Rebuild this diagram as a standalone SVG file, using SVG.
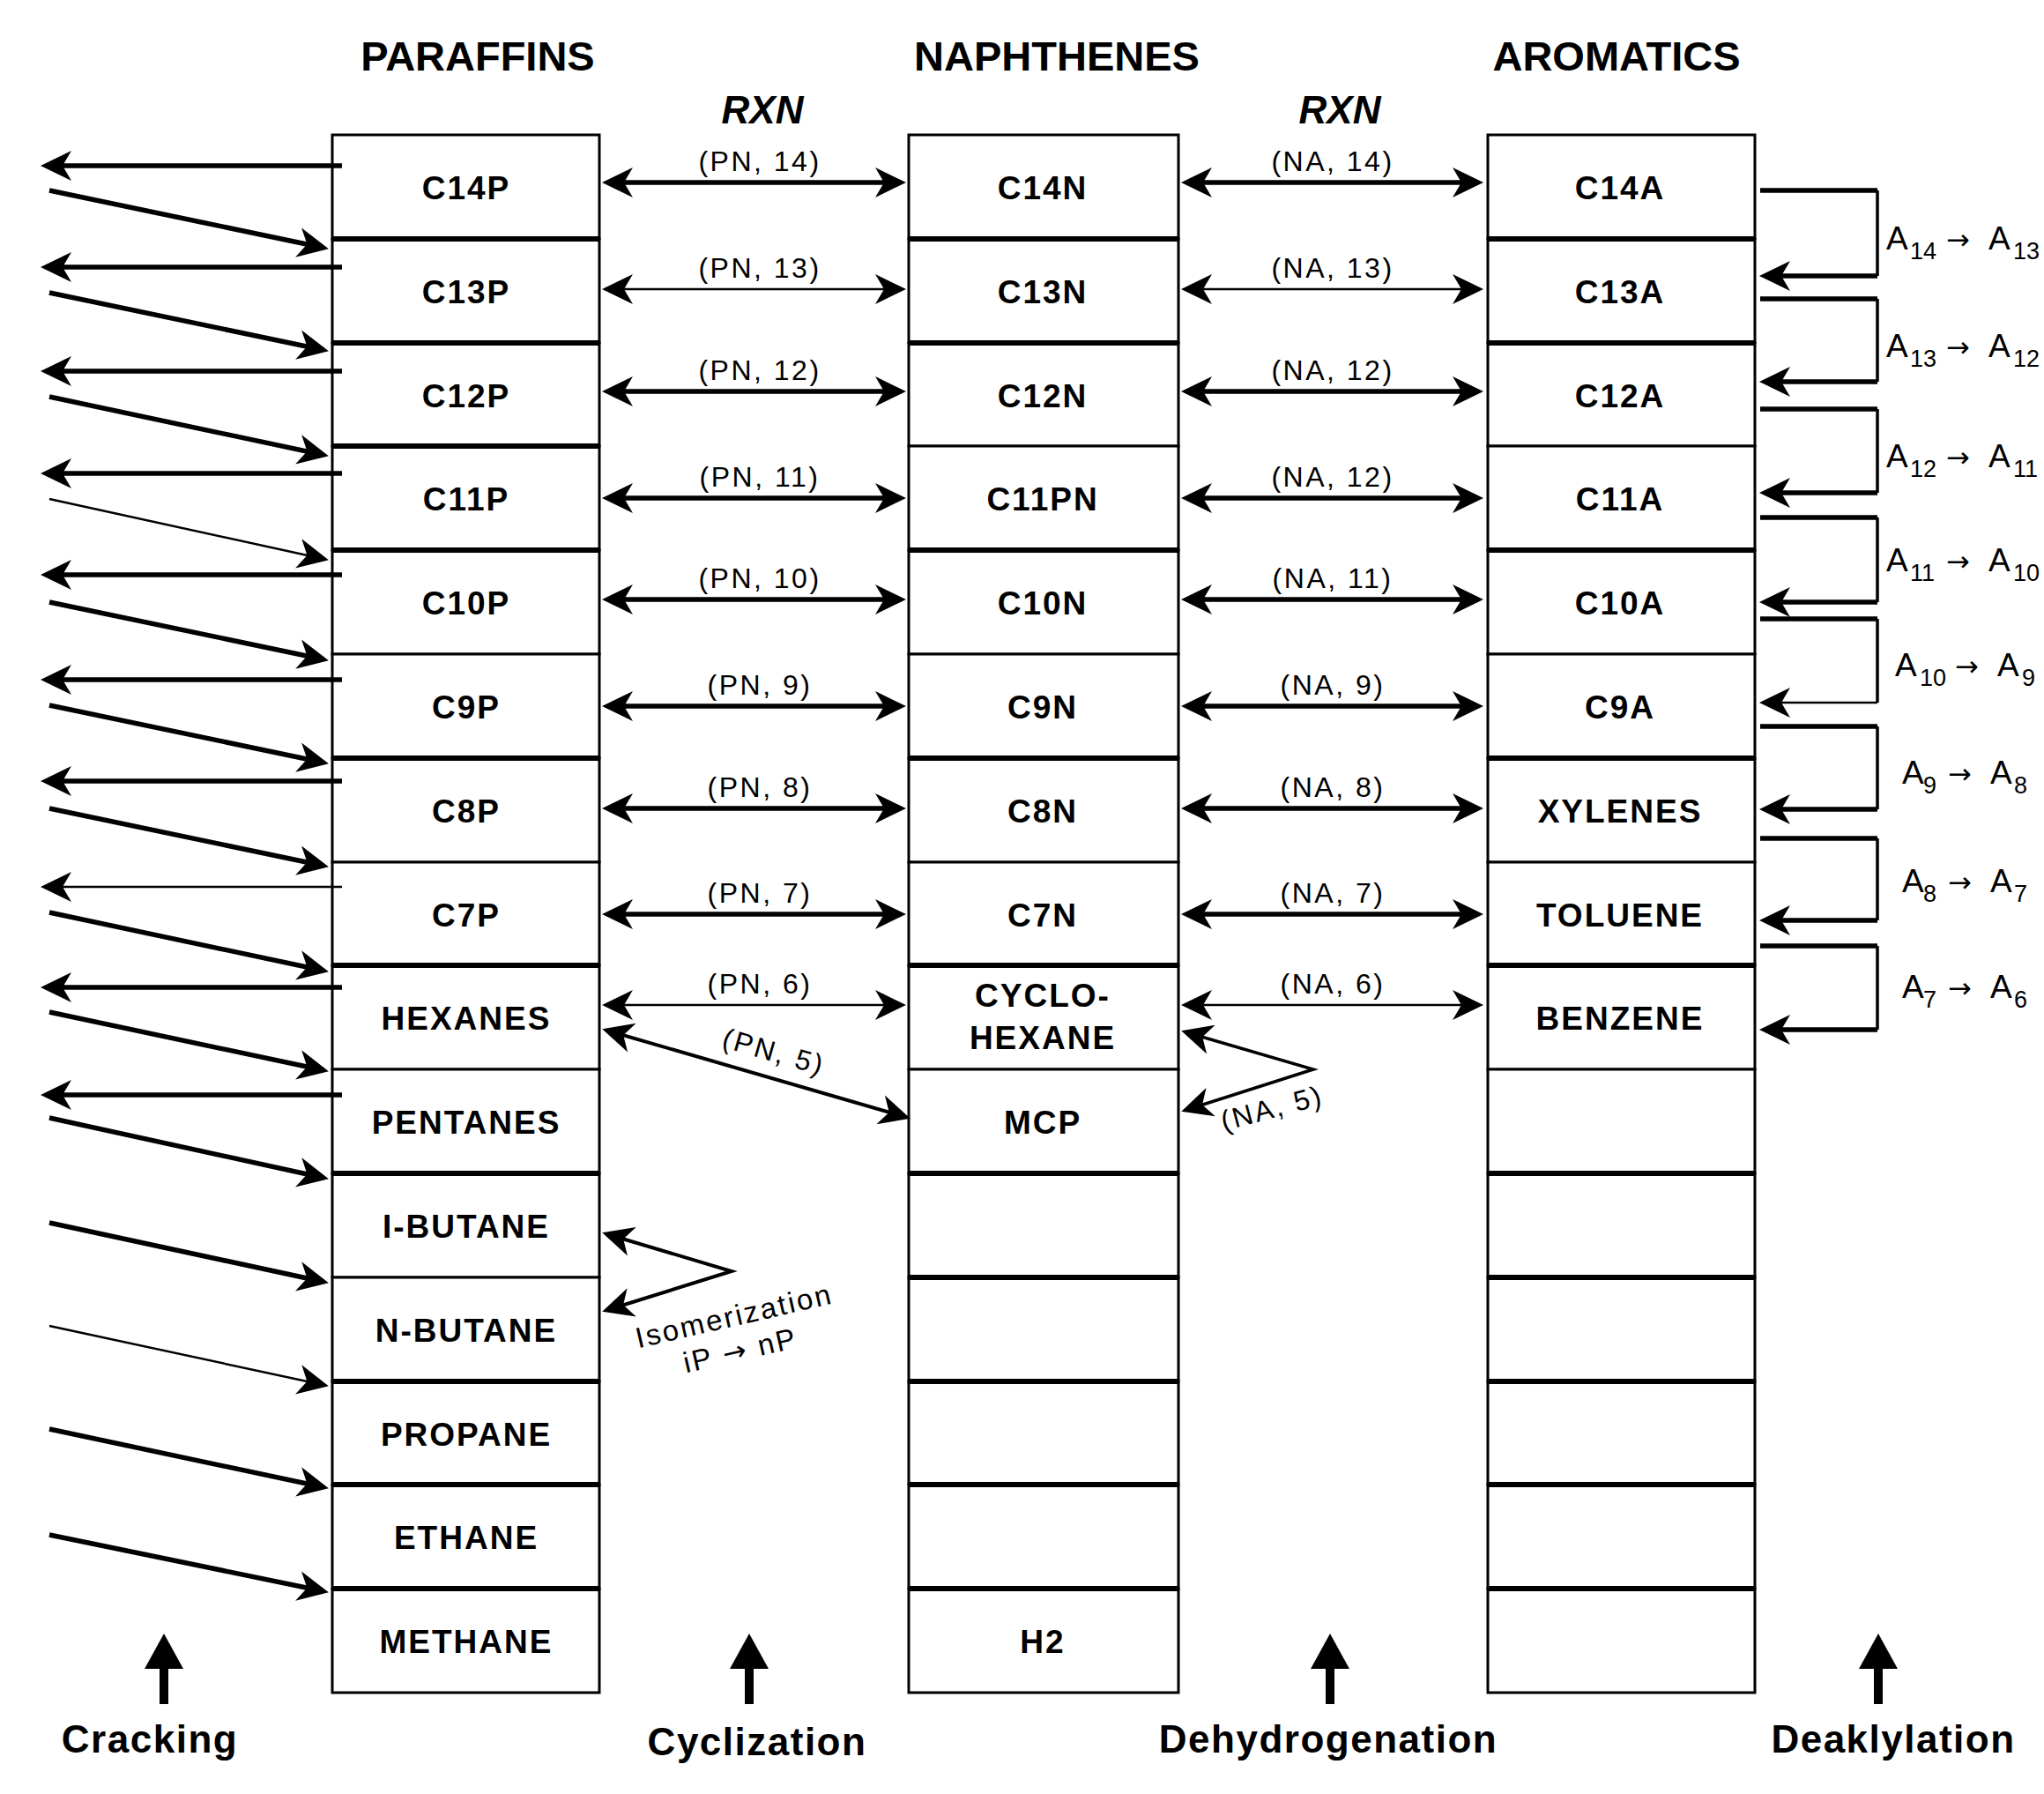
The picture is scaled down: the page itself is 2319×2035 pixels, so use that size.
<svg xmlns="http://www.w3.org/2000/svg" width="2319" height="2035" viewBox="0 0 2319 2035">
<style>
.cell{fill:#fff;stroke:#000;stroke-width:3}
.dv{stroke:#000;stroke-width:6}
.nt{font-family:"Liberation Sans",Arial,sans-serif;font-weight:bold;font-size:37px;letter-spacing:2px;text-anchor:middle;fill:#000}
.hd{font-family:"Liberation Sans",Arial,sans-serif;font-weight:bold;font-size:47px;text-anchor:middle}
.rxn{font-family:"Liberation Sans",Arial,sans-serif;font-weight:bold;font-style:italic;font-size:44px;text-anchor:middle}
.lb{font-family:"Liberation Sans",Arial,sans-serif;font-size:32px;letter-spacing:2.5px;text-anchor:middle}
.iso{font-family:"Liberation Sans",Arial,sans-serif;font-size:33px;letter-spacing:2.5px;text-anchor:middle}
.al{font-family:"Liberation Sans",Arial,sans-serif;font-size:37px}
.sb{font-size:27px}
.aw{font-family:"DejaVu Sans",sans-serif;font-size:32px}
.bt{font-family:"Liberation Sans",Arial,sans-serif;font-weight:bold;font-size:44px;letter-spacing:1.5px;text-anchor:middle}
.k{stroke:#000;stroke-width:5.5;fill:none}
.t{stroke:#000;stroke-width:2.5;fill:none}
.m{stroke:#000;stroke-width:4;fill:none}
.v{stroke:#000;stroke-width:3.5;fill:none}
.e{marker-end:url(#ah)}
.b{marker-start:url(#ah);marker-end:url(#ah)}
</style>
<defs>
<marker id="ah" markerUnits="userSpaceOnUse" markerWidth="50" markerHeight="50" viewBox="-30 -25 50 50" refX="0" refY="0" orient="auto-start-reverse" overflow="visible">
<path d="M6,0 L-29,-17 L-19,0 L-29,17 Z" fill="#000"/>
</marker>
<path id="up" d="M0,0 L-22,40 L-5,40 L-5,80 L5,80 L5,40 L22,40 Z" fill="#000"/>
</defs>
<rect width="2319" height="2035" fill="#fff"/>

<g id="headers">
<text class="hd" x="542" y="80">PARAFFINS</text>
<text class="hd" x="1199" y="80">NAPHTHENES</text>
<text class="hd" x="1834" y="80">AROMATICS</text>
<text class="rxn" x="865" y="140">RXN</text>
<text class="rxn" x="1520" y="140">RXN</text>
</g>

<g id="paraffins">
<g id="p-c14p"><rect class="cell" x="377" y="153" width="303" height="118"/><text class="nt" x="529" y="226">C14P</text></g>
<g id="p-c13p"><rect class="cell" x="377" y="271" width="303" height="118"/><text class="nt" x="529" y="344">C13P</text></g>
<g id="p-c12p"><rect class="cell" x="377" y="389" width="303" height="117"/><text class="nt" x="529" y="462">C12P</text></g>
<g id="p-c11p"><rect class="cell" x="377" y="506" width="303" height="118"/><text class="nt" x="529" y="579">C11P</text></g>
<g id="p-c10p"><rect class="cell" x="377" y="624" width="303" height="118"/><text class="nt" x="529" y="697">C10P</text></g>
<g id="p-c9p"><rect class="cell" x="377" y="742" width="303" height="118"/><text class="nt" x="529" y="815">C9P</text></g>
<g id="p-c8p"><rect class="cell" x="377" y="860" width="303" height="118"/><text class="nt" x="529" y="933">C8P</text></g>
<g id="p-c7p"><rect class="cell" x="377" y="978" width="303" height="117"/><text class="nt" x="529" y="1051">C7P</text></g>
<g id="p-hexanes"><rect class="cell" x="377" y="1095" width="303" height="118"/><text class="nt" x="529" y="1168">HEXANES</text></g>
<g id="p-pentanes"><rect class="cell" x="377" y="1213" width="303" height="118"/><text class="nt" x="529" y="1286">PENTANES</text></g>
<g id="p-ibutane"><rect class="cell" x="377" y="1331" width="303" height="118"/><text class="nt" x="529" y="1404">I-BUTANE</text></g>
<g id="p-nbutane"><rect class="cell" x="377" y="1449" width="303" height="118"/><text class="nt" x="529" y="1522">N-BUTANE</text></g>
<g id="p-propane"><rect class="cell" x="377" y="1567" width="303" height="117"/><text class="nt" x="529" y="1640">PROPANE</text></g>
<g id="p-ethane"><rect class="cell" x="377" y="1684" width="303" height="118"/><text class="nt" x="529" y="1757">ETHANE</text></g>
<g id="p-methane"><rect class="cell" x="377" y="1802" width="303" height="118"/><text class="nt" x="529" y="1875">METHANE</text></g>
</g>

<g id="naphthenes">
<g id="n-c14n"><rect class="cell" x="1031" y="153" width="306" height="118"/><text class="nt" x="1183" y="226">C14N</text></g>
<g id="n-c13n"><rect class="cell" x="1031" y="271" width="306" height="118"/><text class="nt" x="1183" y="344">C13N</text></g>
<g id="n-c12n"><rect class="cell" x="1031" y="389" width="306" height="117"/><text class="nt" x="1183" y="462">C12N</text></g>
<g id="n-c11pn"><rect class="cell" x="1031" y="506" width="306" height="118"/><text class="nt" x="1183" y="579">C11PN</text></g>
<g id="n-c10n"><rect class="cell" x="1031" y="624" width="306" height="118"/><text class="nt" x="1183" y="697">C10N</text></g>
<g id="n-c9n"><rect class="cell" x="1031" y="742" width="306" height="118"/><text class="nt" x="1183" y="815">C9N</text></g>
<g id="n-c8n"><rect class="cell" x="1031" y="860" width="306" height="118"/><text class="nt" x="1183" y="933">C8N</text></g>
<g id="n-c7n"><rect class="cell" x="1031" y="978" width="306" height="117"/><text class="nt" x="1183" y="1051">C7N</text></g>
<g id="n-cyclohexane"><rect class="cell" x="1031" y="1095" width="306" height="118"/><text class="nt" x="1183" y="1142">CYCLO-</text><text class="nt" x="1183" y="1190">HEXANE</text></g>
<g id="n-mcp"><rect class="cell" x="1031" y="1213" width="306" height="118"/><text class="nt" x="1183" y="1286">MCP</text></g>
<g id="n-e1"><rect class="cell" x="1031" y="1331" width="306" height="118"/></g>
<g id="n-e2"><rect class="cell" x="1031" y="1449" width="306" height="118"/></g>
<g id="n-e3"><rect class="cell" x="1031" y="1567" width="306" height="117"/></g>
<g id="n-e4"><rect class="cell" x="1031" y="1684" width="306" height="118"/></g>
<g id="n-h2"><rect class="cell" x="1031" y="1802" width="306" height="118"/><text class="nt" x="1183" y="1875">H2</text></g>
</g>

<g id="aromatics">
<g id="a-c14a"><rect class="cell" x="1688" y="153" width="303" height="118"/><text class="nt" x="1838" y="226">C14A</text></g>
<g id="a-c13a"><rect class="cell" x="1688" y="271" width="303" height="118"/><text class="nt" x="1838" y="344">C13A</text></g>
<g id="a-c12a"><rect class="cell" x="1688" y="389" width="303" height="117"/><text class="nt" x="1838" y="462">C12A</text></g>
<g id="a-c11a"><rect class="cell" x="1688" y="506" width="303" height="118"/><text class="nt" x="1838" y="579">C11A</text></g>
<g id="a-c10a"><rect class="cell" x="1688" y="624" width="303" height="118"/><text class="nt" x="1838" y="697">C10A</text></g>
<g id="a-c9a"><rect class="cell" x="1688" y="742" width="303" height="118"/><text class="nt" x="1838" y="815">C9A</text></g>
<g id="a-xylenes"><rect class="cell" x="1688" y="860" width="303" height="118"/><text class="nt" x="1838" y="933">XYLENES</text></g>
<g id="a-toluene"><rect class="cell" x="1688" y="978" width="303" height="117"/><text class="nt" x="1838" y="1051">TOLUENE</text></g>
<g id="a-benzene"><rect class="cell" x="1688" y="1095" width="303" height="118"/><text class="nt" x="1838" y="1168">BENZENE</text></g>
<g id="a-e1"><rect class="cell" x="1688" y="1213" width="303" height="118"/></g>
<g id="a-e2"><rect class="cell" x="1688" y="1331" width="303" height="118"/></g>
<g id="a-e3"><rect class="cell" x="1688" y="1449" width="303" height="118"/></g>
<g id="a-e4"><rect class="cell" x="1688" y="1567" width="303" height="117"/></g>
<g id="a-e5"><rect class="cell" x="1688" y="1684" width="303" height="118"/></g>
<g id="a-e6"><rect class="cell" x="1688" y="1802" width="303" height="118"/></g>
</g>

<g id="dividers">
<path class="dv" d="M377,271H680M377,389H680M377,506H680M377,624H680M377,860H680M377,1095H680M377,1331H680M377,1567H680M377,1684H680M377,1802H680"/>
<path class="dv" d="M1031,271H1337M1031,389H1337M1031,624H1337M1031,860H1337M1031,1095H1337M1031,1331H1337M1031,1449H1337M1031,1567H1337M1031,1684H1337M1031,1802H1337"/>
<path class="dv" d="M1688,271H1991M1688,389H1991M1688,624H1991M1688,860H1991M1688,1095H1991M1688,1331H1991M1688,1449H1991M1688,1567H1991M1688,1684H1991M1688,1802H1991"/>
</g>

<g id="connectors">
<g id="cracking">
<line class="k e" x1="388" y1="188" x2="52" y2="188"/>
<line class="k e" x1="388" y1="303" x2="52" y2="303"/>
<line class="k e" x1="388" y1="421" x2="52" y2="421"/>
<line class="k e" x1="388" y1="537" x2="52" y2="537"/>
<line class="k e" x1="388" y1="652" x2="52" y2="652"/>
<line class="k e" x1="388" y1="771" x2="52" y2="771"/>
<line class="k e" x1="388" y1="886" x2="52" y2="886"/>
<line class="t e" x1="388" y1="1006" x2="52" y2="1006"/>
<line class="k e" x1="388" y1="1120" x2="52" y2="1120"/>
<line class="k e" x1="388" y1="1242" x2="52" y2="1242"/>
<line class="k e" x1="56" y1="216" x2="367" y2="281"/>
<line class="k e" x1="56" y1="332" x2="367" y2="397"/>
<line class="k e" x1="56" y1="450" x2="367" y2="516"/>
<line class="t e" x1="56" y1="566" x2="367" y2="634"/>
<line class="k e" x1="56" y1="683" x2="367" y2="748"/>
<line class="k e" x1="56" y1="800" x2="367" y2="865"/>
<line class="k e" x1="56" y1="917" x2="367" y2="982"/>
<line class="k e" x1="56" y1="1035" x2="367" y2="1101"/>
<line class="k e" x1="56" y1="1148" x2="367" y2="1214"/>
<line class="k e" x1="56" y1="1268" x2="367" y2="1336"/>
<line class="k e" x1="56" y1="1387" x2="367" y2="1454"/>
<line class="t e" x1="56" y1="1504" x2="367" y2="1571"/>
<line class="k e" x1="56" y1="1621" x2="367" y2="1687"/>
<line class="k e" x1="56" y1="1741" x2="367" y2="1805"/>
</g>
<g id="cyclization">
<line class="k b" x1="689" y1="207" x2="1022" y2="207"/>
<line class="t b" x1="689" y1="328" x2="1022" y2="328"/>
<line class="k b" x1="689" y1="444" x2="1022" y2="444"/>
<line class="k b" x1="689" y1="565" x2="1022" y2="565"/>
<line class="k b" x1="689" y1="680" x2="1022" y2="680"/>
<line class="k b" x1="689" y1="801" x2="1022" y2="801"/>
<line class="k b" x1="689" y1="917" x2="1022" y2="917"/>
<line class="k b" x1="689" y1="1037" x2="1022" y2="1037"/>
<line class="t b" x1="689" y1="1140" x2="1022" y2="1140"/>
<line class="m b" x1="689" y1="1169" x2="1027" y2="1267"/>
<polyline class="m b" points="689,1400 830,1442 689,1486"/>
</g>
<g id="dehydrogenation">
<line class="k b" x1="1346" y1="207" x2="1677" y2="207"/>
<line class="t b" x1="1346" y1="328" x2="1677" y2="328"/>
<line class="k b" x1="1346" y1="444" x2="1677" y2="444"/>
<line class="k b" x1="1346" y1="565" x2="1677" y2="565"/>
<line class="k b" x1="1346" y1="680" x2="1677" y2="680"/>
<line class="k b" x1="1346" y1="801" x2="1677" y2="801"/>
<line class="k b" x1="1346" y1="917" x2="1677" y2="917"/>
<line class="k b" x1="1346" y1="1037" x2="1677" y2="1037"/>
<line class="t b" x1="1346" y1="1140" x2="1677" y2="1140"/>
<polyline class="v b" points="1346,1171 1490,1213 1346,1259"/>
</g>
<g id="deaklylation">
<path class="k" d="M1997,216H2130"/><line class="v" x1="2130" y1="216" x2="2130" y2="313"/><line class="k e" x1="2130" y1="313" x2="2002" y2="313"/>
<path class="k" d="M1997,339H2130"/><line class="v" x1="2130" y1="339" x2="2130" y2="433"/><line class="k e" x1="2130" y1="433" x2="2002" y2="433"/>
<path class="k" d="M1997,464H2130"/><line class="v" x1="2130" y1="464" x2="2130" y2="559"/><line class="k e" x1="2130" y1="559" x2="2002" y2="559"/>
<path class="k" d="M1997,587H2130"/><line class="v" x1="2130" y1="587" x2="2130" y2="683"/><line class="k e" x1="2130" y1="683" x2="2002" y2="683"/>
<path class="k" d="M1997,702H2130"/><line class="v" x1="2130" y1="702" x2="2130" y2="797"/><line class="t e" x1="2130" y1="797" x2="2002" y2="797"/>
<path class="k" d="M1997,824H2130"/><line class="v" x1="2130" y1="824" x2="2130" y2="918"/><line class="k e" x1="2130" y1="918" x2="2002" y2="918"/>
<path class="k" d="M1997,951H2130"/><line class="v" x1="2130" y1="951" x2="2130" y2="1044"/><line class="k e" x1="2130" y1="1044" x2="2002" y2="1044"/>
<path class="k" d="M1997,1073H2130"/><line class="v" x1="2130" y1="1073" x2="2130" y2="1168"/><line class="k e" x1="2130" y1="1168" x2="2002" y2="1168"/>
</g>
<g id="up-arrows">
<use href="#up" x="186" y="1853"/>
<use href="#up" x="850" y="1853"/>
<use href="#up" x="1509" y="1853"/>
<use href="#up" x="2131" y="1853"/>
</g>
</g>

<g id="labels">
<text class="lb" x="862" y="194">(PN, 14)</text>
<text class="lb" x="862" y="315">(PN, 13)</text>
<text class="lb" x="862" y="431">(PN, 12)</text>
<text class="lb" x="862" y="552">(PN, 11)</text>
<text class="lb" x="862" y="667">(PN, 10)</text>
<text class="lb" x="862" y="788">(PN, 9)</text>
<text class="lb" x="862" y="904">(PN, 8)</text>
<text class="lb" x="862" y="1024">(PN, 7)</text>
<text class="lb" x="862" y="1127">(PN, 6)</text>
<text class="lb" x="878" y="1204" transform="rotate(16 878 1193)">(PN, 5)</text>
<text class="lb" x="1512" y="194">(NA, 14)</text>
<text class="lb" x="1512" y="315">(NA, 13)</text>
<text class="lb" x="1512" y="431">(NA, 12)</text>
<text class="lb" x="1512" y="552">(NA, 12)</text>
<text class="lb" x="1512" y="667">(NA, 11)</text>
<text class="lb" x="1512" y="788">(NA, 9)</text>
<text class="lb" x="1512" y="904">(NA, 8)</text>
<text class="lb" x="1512" y="1024">(NA, 7)</text>
<text class="lb" x="1512" y="1127">(NA, 6)</text>
<text class="lb" x="1443" y="1268" transform="rotate(-15 1443 1257)">(NA, 5)</text>
<text class="iso" x="833" y="1504" transform="rotate(-13 833 1493)">Isomerization</text>
<text class="iso" x="840" y="1543" transform="rotate(-13 840 1532)">iP <tspan class="aw">→</tspan> nP</text>

<text class="al"><tspan x="2140" y="283">A</tspan><tspan class="sb" x="2167" y="294">14</tspan><tspan class="aw" x="2208" y="283">→</tspan><tspan x="2256" y="283">A</tspan><tspan class="sb" x="2284" y="294">13</tspan></text>
<text class="al"><tspan x="2140" y="405">A</tspan><tspan class="sb" x="2167" y="416">13</tspan><tspan class="aw" x="2208" y="405">→</tspan><tspan x="2256" y="405">A</tspan><tspan class="sb" x="2284" y="416">12</tspan></text>
<text class="al"><tspan x="2140" y="530">A</tspan><tspan class="sb" x="2167" y="541">12</tspan><tspan class="aw" x="2208" y="530">→</tspan><tspan x="2256" y="530">A</tspan><tspan class="sb" x="2284" y="541">11</tspan></text>
<text class="al"><tspan x="2140" y="648">A</tspan><tspan class="sb" x="2167" y="659">11</tspan><tspan class="aw" x="2208" y="648">→</tspan><tspan x="2256" y="648">A</tspan><tspan class="sb" x="2284" y="659">10</tspan></text>
<text class="al"><tspan x="2150" y="767">A</tspan><tspan class="sb" x="2178" y="778">10</tspan><tspan class="aw" x="2218" y="767">→</tspan><tspan x="2266" y="767">A</tspan><tspan class="sb" x="2294" y="778">9</tspan></text>
<text class="al"><tspan x="2158" y="889">A</tspan><tspan class="sb" x="2182" y="900">9</tspan><tspan class="aw" x="2210" y="889">→</tspan><tspan x="2258" y="889">A</tspan><tspan class="sb" x="2285" y="900">8</tspan></text>
<text class="al"><tspan x="2158" y="1012">A</tspan><tspan class="sb" x="2182" y="1023">8</tspan><tspan class="aw" x="2210" y="1012">→</tspan><tspan x="2258" y="1012">A</tspan><tspan class="sb" x="2285" y="1023">7</tspan></text>
<text class="al"><tspan x="2158" y="1132">A</tspan><tspan class="sb" x="2182" y="1143">7</tspan><tspan class="aw" x="2210" y="1132">→</tspan><tspan x="2258" y="1132">A</tspan><tspan class="sb" x="2285" y="1143">6</tspan></text>

<text class="bt" x="170" y="1988">Cracking</text>
<text class="bt" x="859" y="1991">Cyclization</text>
<text class="bt" x="1507" y="1988">Dehydrogenation</text>
<text class="bt" x="2148" y="1988">Deaklylation</text>
</g>
</svg>
